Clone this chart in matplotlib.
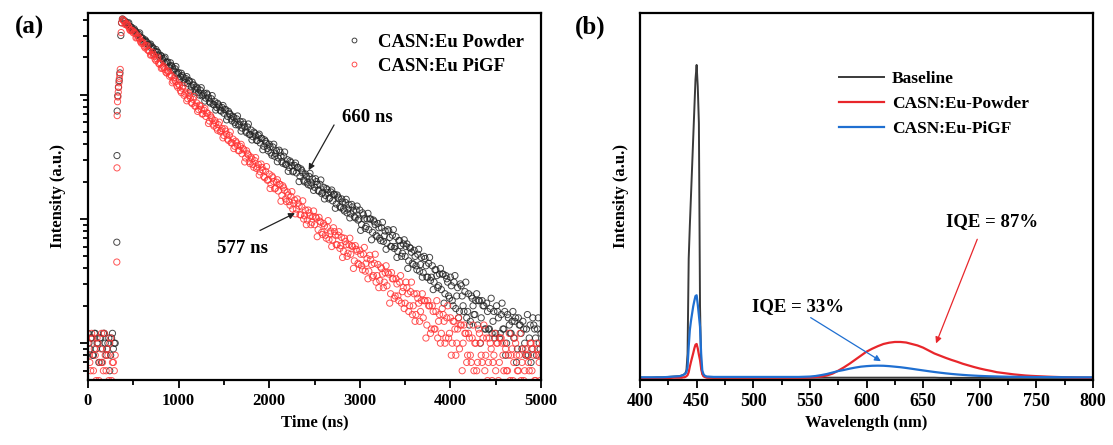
import numpy as np
import matplotlib
matplotlib.use("Agg")
import matplotlib.pyplot as plt
from matplotlib.lines import Line2D
from matplotlib.ticker import MultipleLocator, LogLocator, NullFormatter

plt.rcParams['font.family'] = ['Liberation Serif', 'DejaVu Serif']
plt.rcParams['font.weight'] = 'bold'

# ---------------- (a) decay data ----------------
pre_t_even = [0, 20, 40, 60, 80, 100, 120, 140, 160, 180, 200, 220, 240, 260, 280, 300]
pre_t_odd = [10, 30, 50, 70, 90, 110, 130, 150, 170, 190, 210, 230, 250, 270, 290]
black_pre_even = [12, 9, 11, 8, 12, 10, 7, 11, 9, 12, 8, 10, 6, 11, 9, 10]
black_pre_odd = [10, 11, 8, 12, 9, 10, 11, 7, 12, 10, 9, 11, 8, 12, 10]
red_pre_even = [10, 7, 12, 6, 8, 11, 5, 9, 7, 12, 6, 8, 10, 5, 7, 8]
red_pre_odd = [8, 6, 11, 9, 5, 10, 7, 12, 6, 8, 9, 5, 11, 7, 6]

black_rise_t = [318, 320, 322, 328, 336, 344, 352, 362, 370]
black_rise = [65, 324, 740, 980, 1150, 1300, 1500, 3000, 3800]
red_rise_t = [318, 320, 322, 326, 330, 334, 338, 342, 346, 350, 356, 366, 372]
red_rise = [45, 258, 680, 880, 960, 1050, 1150, 1250, 1350, 1450, 1600, 3170, 3800]

# decay channels: even channels start at 380 ns, odd channels at 390 ns, 20 ns apart
even_t0, odd_t0, chan_step = 380, 390, 20
black_decay_even = [
    4080,
    3950, 3790, 3760, 3560, 3500,
    3320, 3280, 3110, 3080, 2910,
    2870, 2720, 2700, 2550, 2530,
    2380, 2370, 2230, 2220, 2090,
    2080, 1950, 1960, 1830, 1840,
    1710, 1720, 1600, 1620, 1500,
    1510, 1400, 1430, 1320, 1350,
    1230, 1290, 1160, 1200, 1110,
    1150, 1040, 1090, 980, 1030,
    940, 1000, 880, 930, 840,
    880, 790, 830, 750, 790,
    710, 760, 670, 710, 640,
    670, 600, 640, 570, 610,
    540, 580, 510, 550, 480,
    520, 460, 490, 430, 470,
    410, 445, 385, 420, 370,
    400, 340, 380, 320, 355,
    310, 345, 290, 320, 275,
    300, 260, 285, 240, 270,
    235, 260, 220, 245, 205,
    230, 195, 220, 185, 210,
    180, 200, 170, 190, 160,
    180, 155, 172, 145, 165,
    140, 158, 132, 150, 126,
    145, 120, 136, 112, 130,
    110, 125, 104, 118, 98,
    118, 90, 108, 84, 100,
    82, 100, 78, 95, 74,
    92, 70, 85, 66, 80,
    64, 80, 60, 74, 58,
    72, 55, 67, 50, 63,
    50, 63, 46, 58, 44,
    56, 42, 52, 38, 49,
    37, 48, 34, 44, 32,
    42, 31, 39, 28, 36,
    27, 36, 25, 33, 24,
    34, 22, 31, 19, 28,
    18, 29, 20, 26, 16,
    25, 15, 23, 17, 22,
    14, 22, 16, 20, 13,
    21, 13, 19, 12, 18,
    12, 18, 11, 17, 13,
    18, 10, 16, 12, 15,
    11, 16, 9, 14, 12,
    15, 10, 13, 8, 14,
    9, 14, 11, 13, 10,
    12]
black_decay_odd = [
    4010,
    3910, 3650, 3800, 3520, 3290,
    3390, 3210, 3010, 3150, 2850,
    2680, 2770, 2640, 2500, 2560,
    2430, 2150, 2315, 2200, 2010,
    2050, 1880, 2005, 1825, 1675,
    1810, 1680, 1550, 1690, 1470,
    1320, 1490, 1385, 1255, 1400,
    1305, 1075, 1265, 1195, 1050,
    1120, 995, 1140, 1000, 890,
    1028, 946, 858, 985, 830,
    754, 854, 799, 738, 820,
    760, 628, 736, 693, 616,
    655, 574, 675, 580, 510,
    605, 552, 495, 582, 480,
    433, 501, 466, 428, 482,
    445, 361, 433, 406, 353,
    382, 326, 400, 335, 289,
    358, 321, 281, 346, 276,
    242, 293, 269, 243, 282,
    260, 200, 253, 235, 199,
    221, 189, 233, 195, 170,
    211, 190, 167, 206, 164,
    145, 176, 163, 148, 171,
    158, 122, 156, 145, 123,
    137, 116, 144, 120, 102,
    131, 116, 102, 127, 100,
    81, 112, 100, 87, 111,
    100, 68, 98, 90, 72,
    85, 67, 94, 73, 57,
    82, 71, 60, 82, 60,
    49, 67, 61, 53, 68,
    60, 40, 59, 54, 43,
    50, 39, 57, 43, 34,
    50, 42, 34, 49, 34,
    27, 39, 35, 29, 40,
    36, 21, 35, 31, 23,
    29, 20, 35, 24, 16,
    30, 24, 18, 31, 18,
    14, 24, 20, 17, 25,
    22, 10, 22, 20, 13,
    18, 13, 23, 15, 11,
    20, 16, 12, 21, 13,
    8, 17, 14, 12, 18,
    15, 7, 16, 14, 9,
    13, 8, 17, 11, 7,
    16, 13, 8, 16, 9]
red_decay_even = [
    4050,
    3900, 3700, 3620, 3350, 3300,
    3150, 3120, 2900, 2880, 2680,
    2660, 2460, 2450, 2290, 2250,
    2100, 2110, 1940, 1950, 1790,
    1800, 1650, 1660, 1520, 1540,
    1410, 1420, 1290, 1310, 1190,
    1220, 1080, 1130, 990, 1050,
    930, 990, 870, 920, 810,
    860, 760, 810, 700, 750,
    670, 710, 615, 660, 580,
    620, 540, 575, 505, 535,
    470, 510, 440, 470, 410,
    440, 385, 410, 355, 385,
    335, 360, 310, 335, 290,
    315, 275, 295, 255, 275,
    240, 260, 220, 242, 205,
    230, 190, 215, 175, 198,
    168, 190, 155, 178, 145,
    165, 138, 152, 120, 142,
    120, 134, 108, 125, 100,
    118, 98, 112, 90, 105,
    90, 102, 82, 96, 78,
    92, 74, 86, 68, 80,
    68, 79, 62, 74, 58,
    71, 55, 66, 50, 62,
    52, 60, 46, 57, 44,
    56, 42, 52, 38, 48,
    38, 47, 34, 44, 31,
    43, 32, 40, 28, 37,
    29, 36, 25, 33, 23,
    33, 24, 31, 21, 28,
    21, 28, 18, 26, 17,
    25, 17, 23, 15, 22,
    16, 22, 14, 20, 12,
    20, 13, 18, 11, 17,
    12, 17, 10, 16, 11,
    16, 10, 15, 8, 13,
    9, 14, 10, 12, 7,
    12, 8, 11, 6, 10,
    7, 12, 8, 11, 6,
    11, 7, 10, 5, 8,
    6, 10, 7, 11, 8,
    10, 6, 8, 5, 9,
    7, 10, 6, 8, 5,
    9, 6, 8, 7, 10,
    6, 8, 5, 9, 7,
    8]
red_decay_odd = [
    3990,
    3680, 3740, 3510, 3280, 3300,
    3190, 2870, 2980, 2825, 2600,
    2595, 2385, 2495, 2265, 2085,
    2200, 2045, 1885, 2005, 1760,
    1630, 1705, 1600, 1495, 1550,
    1455, 1250, 1368, 1284, 1150,
    1184, 1042, 1178, 1016, 895,
    1032, 944, 850, 968, 809,
    735, 824, 765, 703, 774,
    715, 588, 683, 639, 560,
    593, 518, 602, 515, 450,
    532, 482, 429, 502, 410,
    369, 423, 391, 355, 399,
    369, 288, 354, 328, 279,
    304, 261, 312, 262, 226,
    277, 247, 215, 264, 207,
    176, 222, 200, 177, 207,
    191, 139, 185, 170, 138,
    156, 129, 166, 134, 110,
    145, 127, 108, 140, 106,
    90, 118, 106, 94, 116,
    104, 72, 103, 94, 75,
    88, 70, 97, 76, 60,
    85, 74, 62, 79, 61,
    49, 70, 62, 53, 70,
    61, 40, 61, 55, 43,
    52, 39, 59, 44, 33,
    51, 43, 35, 52, 35,
    28, 41, 36, 31, 42,
    37, 21, 37, 33, 24,
    30, 22, 35, 26, 19,
    31, 25, 20, 31, 20,
    15, 25, 21, 18, 25,
    22, 11, 22, 20, 13,
    18, 13, 22, 15, 10,
    19, 15, 11, 20, 12,
    8, 15, 13, 10, 16,
    14, 6, 14, 12, 8,
    11, 7, 14, 10, 6,
    13, 10, 7, 14, 8,
    5, 11, 9, 7, 12,
    10, 5, 11, 10, 6,
    9, 6, 12, 8, 5,
    11, 8, 6, 12, 7,
    5, 9, 8, 6, 10,
    9, 5, 10, 8, 5]

# ---------------- (b) spectra data ----------------
wl = list(range(400, 436, 5)) + list(range(436, 461)) + list(range(465, 801, 5))
baseline = [
    0.005, 0.005, 0.005, 0.006, 0.006, 0.007, 0.008, 0.009,
    0.010, 0.011, 0.012, 0.014, 0.017, 0.025, 0.070, 0.330, 0.420, 0.500,
    0.580, 0.660, 0.740, 0.820, 0.859, 0.800, 0.700, 0.200, 0.035, 0.016,
    0.011, 0.009, 0.008, 0.007, 0.006,
    0.005, 0.005, 0.005, 0.005, 0.005, 0.005, 0.005, 0.005, 0.005, 0.005,
    0.005, 0.005, 0.005, 0.005, 0.005, 0.005, 0.005, 0.005, 0.005, 0.005,
    0.005, 0.005, 0.005, 0.005, 0.005, 0.005, 0.005, 0.005, 0.005, 0.005,
    0.005, 0.005, 0.005, 0.005, 0.005, 0.005, 0.005, 0.005, 0.005, 0.005,
    0.0045, 0.0045, 0.0045, 0.0045, 0.0045, 0.0045, 0.0045, 0.0045, 0.0045, 0.0045,
    0.0045, 0.0045, 0.0045, 0.0045, 0.0045, 0.0045, 0.0045, 0.0045, 0.0045, 0.0045,
    0.0045, 0.0045, 0.0045, 0.0045, 0.0045, 0.0045, 0.0045, 0.0045]
powder = [
    0.004, 0.004, 0.004, 0.004, 0.004, 0.004, 0.005, 0.005,
    0.005, 0.005, 0.006, 0.006, 0.007, 0.009, 0.012, 0.020, 0.035, 0.048,
    0.060, 0.072, 0.085, 0.095, 0.097, 0.085, 0.068, 0.053, 0.030, 0.015,
    0.009, 0.007, 0.006, 0.005, 0.005,
    0.005, 0.005, 0.005, 0.005, 0.005, 0.005, 0.005, 0.005, 0.005, 0.005,
    0.005, 0.005, 0.005, 0.005, 0.005, 0.005,
    0.005, 0.0055, 0.0065, 0.008, 0.011, 0.016, 0.024, 0.033, 0.043, 0.054,
    0.065, 0.076, 0.084, 0.091, 0.097, 0.1005, 0.1025, 0.1025, 0.101, 0.097,
    0.093, 0.087, 0.079, 0.071, 0.065, 0.059, 0.0535, 0.0485, 0.043, 0.0385,
    0.034, 0.030, 0.0265, 0.0235, 0.020, 0.018, 0.016, 0.014, 0.0125, 0.011,
    0.010, 0.0092, 0.0085, 0.0078, 0.0072, 0.0067, 0.0062, 0.0058, 0.0055, 0.0053,
    0.0051, 0.005]
pigf = [
    0.006, 0.006, 0.006, 0.006, 0.006, 0.007, 0.008, 0.009,
    0.010, 0.011, 0.012, 0.014, 0.016, 0.020, 0.035, 0.090, 0.135, 0.160,
    0.180, 0.200, 0.215, 0.228, 0.230, 0.205, 0.175, 0.144, 0.070, 0.025,
    0.015, 0.011, 0.009, 0.008, 0.008,
    0.007, 0.007, 0.007, 0.007, 0.007, 0.007, 0.007, 0.007, 0.007, 0.007,
    0.007, 0.007, 0.007, 0.007, 0.007, 0.007,
    0.0075, 0.008, 0.0095, 0.012, 0.015, 0.019, 0.023, 0.026, 0.0295, 0.0325,
    0.035, 0.0365, 0.0375, 0.0378, 0.0375, 0.0365, 0.035, 0.0335, 0.0315, 0.0293,
    0.027, 0.0248, 0.0226, 0.0205, 0.0186, 0.0168, 0.0152, 0.0138, 0.0126, 0.0115,
    0.0106, 0.0098, 0.0092, 0.0087, 0.0083, 0.0079, 0.0076, 0.0074, 0.0072, 0.007,
    0.0068, 0.0067, 0.0066, 0.0065, 0.0064, 0.0063, 0.0062, 0.0061, 0.006, 0.006,
    0.006, 0.006]

# ---------------- figure ----------------
fig = plt.figure(figsize=(11.13, 4.45), dpi=100)
ax1 = fig.add_axes([88 / 1113, 1 - 379.5 / 445, 453 / 1113, 366.2 / 445])
ax2 = fig.add_axes([640 / 1113, 1 - 379.5 / 445, 453 / 1113, 366.2 / 445])

BLK = '#262626'
RED = '#ff3535'
ms = 20
lw_m = 0.7


def chans(t0, vals):
    return list(t0 + chan_step * np.arange(len(vals)))


bt = (pre_t_even + pre_t_odd + black_rise_t
      + chans(even_t0, black_decay_even) + chans(odd_t0, black_decay_odd))
bv = black_pre_even + black_pre_odd + black_rise + black_decay_even + black_decay_odd
rt = (pre_t_even + pre_t_odd + red_rise_t
      + chans(even_t0, red_decay_even) + chans(odd_t0, red_decay_odd))
rv = red_pre_even + red_pre_odd + red_rise + red_decay_even + red_decay_odd

ax1.scatter(bt, bv, s=ms, facecolors='none', edgecolors=BLK, linewidths=lw_m, alpha=0.85)
ax1.scatter(rt, rv, s=ms, facecolors='none', edgecolors=RED, linewidths=lw_m, alpha=0.85)
ax1.set_yscale('log')
ax1.set_xlim(0, 5000)
ax1.set_ylim(5.1, 4530)
ax1.xaxis.set_major_locator(MultipleLocator(1000))
ax1.xaxis.set_minor_locator(MultipleLocator(500))
ax1.yaxis.set_major_locator(LogLocator(base=10, numticks=10))
ax1.yaxis.set_minor_locator(LogLocator(base=10, subs=np.arange(2, 10), numticks=20))
ax1.yaxis.set_major_formatter(NullFormatter())
ax1.yaxis.set_minor_formatter(NullFormatter())
ax1.tick_params(which='both', direction='out', width=1.3, labelsize=12)
ax1.tick_params(which='major', length=6)
ax1.tick_params(which='minor', length=3.5)
for s in ax1.spines.values():
    s.set_linewidth(1.6)
ax1.set_xlabel('Time (ns)', fontsize=12, fontweight='bold', labelpad=4)
ax1.set_ylabel('Intensity (a.u.)', fontsize=12, fontweight='bold', labelpad=6)

h1 = [Line2D([], [], ls='none', marker='o', ms=3.5, mfc='none', mec=BLK, mew=0.6),
      Line2D([], [], ls='none', marker='o', ms=3.5, mfc='none', mec=RED, mew=0.6)]
ax1.legend(h1, ['CASN:Eu Powder', 'CASN:Eu PiGF'], loc='upper left',
           bbox_to_anchor=(0.525, 0.99), frameon=False, fontsize=13.5,
           handlelength=1.2, handletextpad=0.7, labelspacing=0.35)

ax1.annotate('', xy=(2420, 236), xytext=(2731, 598),
             arrowprops=dict(arrowstyle='-|>', color='#222222', lw=0.9, mutation_scale=9))
ax1.text(2800, 656, '660 ns', fontsize=13.5, fontweight='bold', va='center', ha='left')
ax1.annotate('', xy=(2312, 114), xytext=(1871, 79),
             arrowprops=dict(arrowstyle='-|>', color='#222222', lw=0.9, mutation_scale=9))
ax1.text(1706, 57.6, '577 ns', fontsize=13.5, fontweight='bold', va='center', ha='center')

# (b)
ax2.plot(wl, baseline, color='#3a3a3a', lw=1.4, label='Baseline')
ax2.plot(wl, powder, color='#e8262b', lw=1.6, label='CASN:Eu-Powder')
ax2.plot(wl, pigf, color='#1f6fd1', lw=1.6, label='CASN:Eu-PiGF')
ax2.set_xlim(400, 800)
ax2.set_ylim(0, 1.0)
ax2.xaxis.set_major_locator(MultipleLocator(50))
ax2.xaxis.set_minor_locator(MultipleLocator(25))
ax2.set_yticks([])
ax2.tick_params(which='both', direction='out', width=1.3, labelsize=13)
ax2.tick_params(which='major', length=6)
ax2.tick_params(which='minor', length=3.5)
for s in ax2.spines.values():
    s.set_linewidth(1.6)
ax2.set_xlabel('Wavelength (nm)', fontsize=12, fontweight='bold', labelpad=4)
ax2.set_ylabel('Intensity (a.u.)', fontsize=12, fontweight='bold', labelpad=8)
ax2.legend(loc='upper left', bbox_to_anchor=(0.405, 0.885), frameon=False, fontsize=12.5,
           handlelength=2.6, handletextpad=0.45, labelspacing=0.5)

ax2.annotate('', xy=(660.5, 0.0915), xytext=(698.7, 0.39),
             arrowprops=dict(arrowstyle='-|>', color='#e8262b', lw=0.9, mutation_scale=9))
ax2.text(710.5, 0.431, 'IQE = 87%', fontsize=13.5, fontweight='bold', ha='center', va='center')
ax2.annotate('', xy=(614.8, 0.046), xytext=(548.6, 0.173),
             arrowprops=dict(arrowstyle='-|>', color='#1f6fd1', lw=0.9, mutation_scale=9))
ax2.text(539.1, 0.199, 'IQE = 33%', fontsize=13.5, fontweight='bold', ha='center', va='center')

fig.text(30 / 1113, 1 - 27 / 445, '(a)', fontsize=18, fontweight='bold', ha='center', va='center')
fig.text(590 / 1113, 1 - 27 / 445, '(b)', fontsize=18, fontweight='bold', ha='center', va='center')

fig.savefig('out.png', dpi=100)
